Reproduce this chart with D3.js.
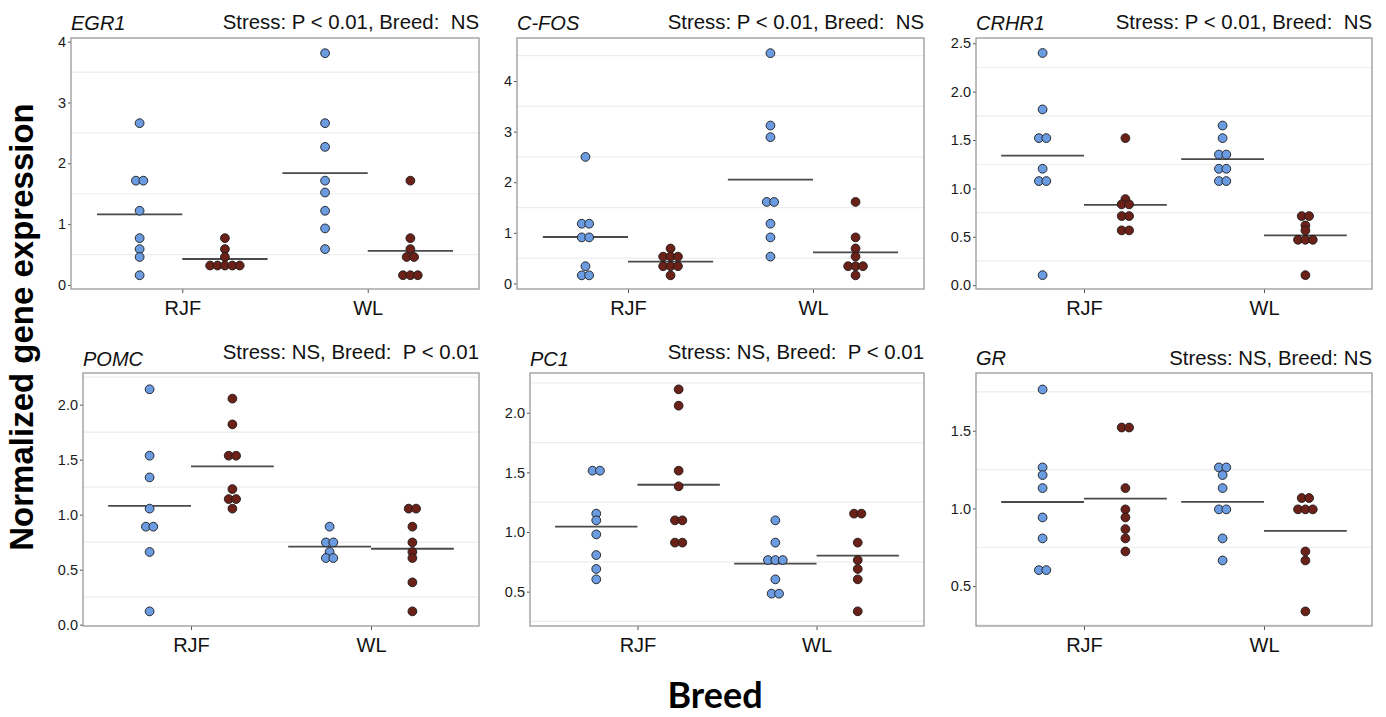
<!DOCTYPE html>
<html>
<head>
<meta charset="utf-8">
<script src="https://cdn.jsdelivr.net/npm/d3@7"></script>
<style>
  body { margin: 0; background: #fff; }
  svg { display: block; }
</style>
</head>
<body>
<div id="chart"></div>
<script>
// breeds on x, two groups dodged inside each breed (blue / brown)
var breeds = ["RJF", "WL"];
var groups = ["control", "stress"];

var genes = ["EGR1", "C-FOS", "CRHR1", "POMC", "PC1", "GR"];
var stats = [
  "Stress: P < 0.01, Breed:  NS",
  "Stress: P < 0.01, Breed:  NS",
  "Stress: P < 0.01, Breed:  NS",
  "Stress: NS, Breed:  P < 0.01",
  "Stress: NS, Breed:  P < 0.01",
  "Stress: NS, Breed: NS"
];

// values per gene: [RJF control, RJF stress, WL control, WL stress]
var egr1 = [
  [2.66, 1.715, 1.715, 1.22, 0.77, 0.59, 0.46, 0.16],
  [0.77, 0.59, 0.46, 0.32, 0.32, 0.32, 0.32, 0.32],
  [3.81, 2.66, 2.27, 1.715, 1.52, 1.22, 0.93, 0.59],
  [1.715, 0.77, 0.59, 0.46, 0.46, 0.16, 0.16, 0.16]
];
var cfos = [
  [2.50, 1.18, 1.18, 0.91, 0.91, 0.34, 0.16, 0.16],
  [0.69, 0.53, 0.53, 0.53, 0.34, 0.34, 0.34, 0.16],
  [4.55, 3.12, 2.89, 1.61, 1.61, 1.18, 0.91, 0.53],
  [1.61, 0.91, 0.69, 0.53, 0.34, 0.34, 0.34, 0.16]
];
var crhr1 = [
  [2.40, 1.817, 1.52, 1.52, 1.203, 1.076, 1.076, 0.103],
  [1.52, 0.89, 0.835, 0.835, 0.714, 0.714, 0.566, 0.566],
  [1.65, 1.52, 1.35, 1.35, 1.203, 1.203, 1.076, 1.076],
  [0.714, 0.714, 0.617, 0.566, 0.469, 0.469, 0.469, 0.103]
];
var pomc = [
  [2.14, 1.536, 1.339, 1.055, 0.891, 0.891, 0.661, 0.121],
  [2.055, 1.821, 1.536, 1.536, 1.233, 1.142, 1.142, 1.055],
  [0.891, 0.748, 0.748, 0.661, 0.606, 0.606],
  [1.055, 1.055, 0.891, 0.748, 0.661, 0.606, 0.385, 0.121]
];
var pc1 = [
  [1.514, 1.514, 1.154, 1.098, 0.98, 0.807, 0.69, 0.603],
  [2.196, 2.059, 1.514, 1.383, 1.098, 1.098, 0.911, 0.911],
  [1.098, 0.911, 0.765, 0.765, 0.765, 0.603, 0.483, 0.483],
  [1.154, 1.154, 0.911, 0.765, 0.69, 0.603, 0.335]
];
var gr = [
  [1.766, 1.264, 1.215, 1.131, 0.942, 0.807, 0.603, 0.603],
  [1.521, 1.521, 1.131, 0.994, 0.942, 0.867, 0.807, 0.723],
  [1.264, 1.264, 1.215, 1.131, 0.994, 0.994, 0.807, 0.665],
  [1.067, 1.067, 0.994, 0.994, 0.994, 0.723, 0.665, 0.337]
];
var geneValues = [egr1, cfos, crhr1, pomc, pc1, gr];

// y tick labels per panel
var yTicks = [
  [0, 1, 2, 3, 4],
  [0, 1, 2, 3, 4],
  [0, 0.5, 1.0, 1.5, 2.0, 2.5],
  [0, 0.5, 1.0, 1.5, 2.0],
  [0.5, 1.0, 1.5, 2.0],
  [0.5, 1.0, 1.5]
];
var yDomains = [
  [-0.066, 4.06],
  [-0.11, 4.85],
  [-0.04, 2.555],
  [-0.012, 2.288],
  [0.212, 2.333],
  [0.243, 1.872]
];

var W = 1386, H = 717;
var colors = { control: "#6b9be0", stress: "#6b2118" };

// plot rectangles of the six panels
var panels = [
  { left: 71,  right: 479,  top: 38,  bottom: 289, titleY: 30, statY: 29, fmt: d3.format("d") },
  { left: 517, right: 924,  top: 38,  bottom: 289, titleY: 30, statY: 29, fmt: d3.format("d") },
  { left: 976, right: 1372, top: 38,  bottom: 289, titleY: 30, statY: 29, fmt: d3.format(".1f") },
  { left: 83,  right: 479,  top: 373, bottom: 626, titleY: 366, statY: 359, fmt: d3.format(".1f") },
  { left: 530, right: 924,  top: 373, bottom: 626, titleY: 366, statY: 359, fmt: d3.format(".1f") },
  { left: 976, right: 1372, top: 373, bottom: 626, titleY: 365, statY: 365, fmt: d3.format(".1f") }
];

var svg = d3.select("#chart").append("svg")
    .attr("width", W)
    .attr("height", H)
    .style("font-family", "'Liberation Sans', Arial, sans-serif");

panels.forEach(function (p, i) {
  var g = svg.append("g").attr("class", "panel");

  var x = d3.scalePoint().domain(breeds).range([p.left, p.right]).padding(0.6);
  var y = d3.scaleLinear().domain(yDomains[i]).range([p.bottom, p.top]);
  var off = x.step() * 0.23;

  // light minor gridlines half way between the ticks
  var ticks = yTicks[i];
  var step = ticks[1] - ticks[0];
  var minor = [];
  for (var v = ticks[0] - step / 2; v <= yDomains[i][1]; v += step) {
    if (v >= yDomains[i][0]) minor.push(v);
  }
  g.selectAll("line.grid")
    .data(minor)
    .enter().append("line")
    .attr("class", "grid")
    .attr("x1", p.left).attr("x2", p.right)
    .attr("y1", function (d) { return y(d); })
    .attr("y2", function (d) { return y(d); })
    .attr("stroke", "#ededed")
    .attr("stroke-width", 1.2);

  // y axis
  var yAxis = g.append("g")
    .attr("transform", "translate(" + p.left + ",0)")
    .call(d3.axisLeft(y).tickValues(ticks).tickFormat(p.fmt).tickSize(3).tickPadding(2));
  yAxis.select(".domain").remove();
  yAxis.selectAll(".tick line").attr("stroke", "#555");
  yAxis.selectAll(".tick text")
    .attr("fill", "#1a1a1a")
    .style("font-size", "14.5px")
    .style("font-family", "'Liberation Sans', Arial, sans-serif");

  // x axis
  var xAxis = g.append("g")
    .attr("transform", "translate(0," + p.bottom + ")")
    .call(d3.axisBottom(x).tickSize(4).tickPadding(3));
  xAxis.select(".domain").remove();
  xAxis.selectAll(".tick line").attr("stroke", "#555");
  xAxis.selectAll(".tick text")
    .attr("fill", "#111")
    .attr("dy", "0.95em")
    .style("font-size", "20px")
    .style("font-family", "'Liberation Sans', Arial, sans-serif");

  // border
  g.append("rect")
    .attr("x", p.left).attr("y", p.top)
    .attr("width", p.right - p.left).attr("height", p.bottom - p.top)
    .attr("fill", "none")
    .attr("stroke", "#999")
    .attr("stroke-width", 1.3);

  // points and mean lines
  var sets = geneValues[i];
  sets.forEach(function (vals, k) {
    var breed = breeds[Math.floor(k / 2)];
    var grp = groups[k % 2];
    var cx = x(breed) + (k % 2 === 0 ? -off : off);

    // equal values sit side by side
    var counts = d3.rollup(vals, function (v) { return v.length; }, function (d) { return d; });
    var seen = new Map();
    var pts = vals.map(function (v) {
      var n = counts.get(v);
      var j = seen.get(v) || 0;
      seen.set(v, j + 1);
      return { v: v, dx: (j - (n - 1) / 2) * 7.4 };
    });

    var m = d3.mean(vals);
    var x1 = k % 2 === 0 ? x(breed) - 2 * off : x(breed);
    g.append("line")
      .attr("x1", x1).attr("x2", x1 + 2 * off)
      .attr("y1", y(m)).attr("y2", y(m))
      .attr("stroke", "#4a4a4a")
      .attr("stroke-width", 1.8);

    g.selectAll("circle.g" + k)
      .data(pts)
      .enter().append("circle")
      .attr("class", "g" + k)
      .attr("cx", function (d) { return cx + d.dx; })
      .attr("cy", function (d) { return y(d.v); })
      .attr("r", 4.4)
      .attr("fill", colors[grp])
      .attr("stroke", "#1b1b1b")
      .attr("stroke-width", 0.9);
  });

  // titles
  g.append("text")
    .attr("x", p.left)
    .attr("y", p.titleY)
    .style("font-size", "20px")
    .style("font-style", "italic")
    .attr("fill", "#111")
    .text(genes[i]);

  g.append("text")
    .attr("x", p.right)
    .attr("y", p.statY)
    .attr("text-anchor", "end")
    .style("font-size", "20.4px")
    .style("white-space", "pre")
    .attr("fill", "#111")
    .text(stats[i]);
});

svg.append("text")
  .attr("transform", "translate(33,327) rotate(-90)")
  .attr("text-anchor", "middle")
  .style("font-size", "33px")
  .style("font-weight", "bold")
  .style("font-family", "'Liberation Sans', Arial, sans-serif")
  .attr("fill", "#000")
  .text("Normalized gene expression");

svg.append("text")
  .attr("x", 715)
  .attr("y", 708)
  .attr("text-anchor", "middle")
  .style("font-size", "36px")
  .style("font-weight", "bold")
  .style("font-family", "Lato, 'Open Sans', sans-serif")
  .attr("fill", "#000")
  .text("Breed");
</script>
</body>
</html>
